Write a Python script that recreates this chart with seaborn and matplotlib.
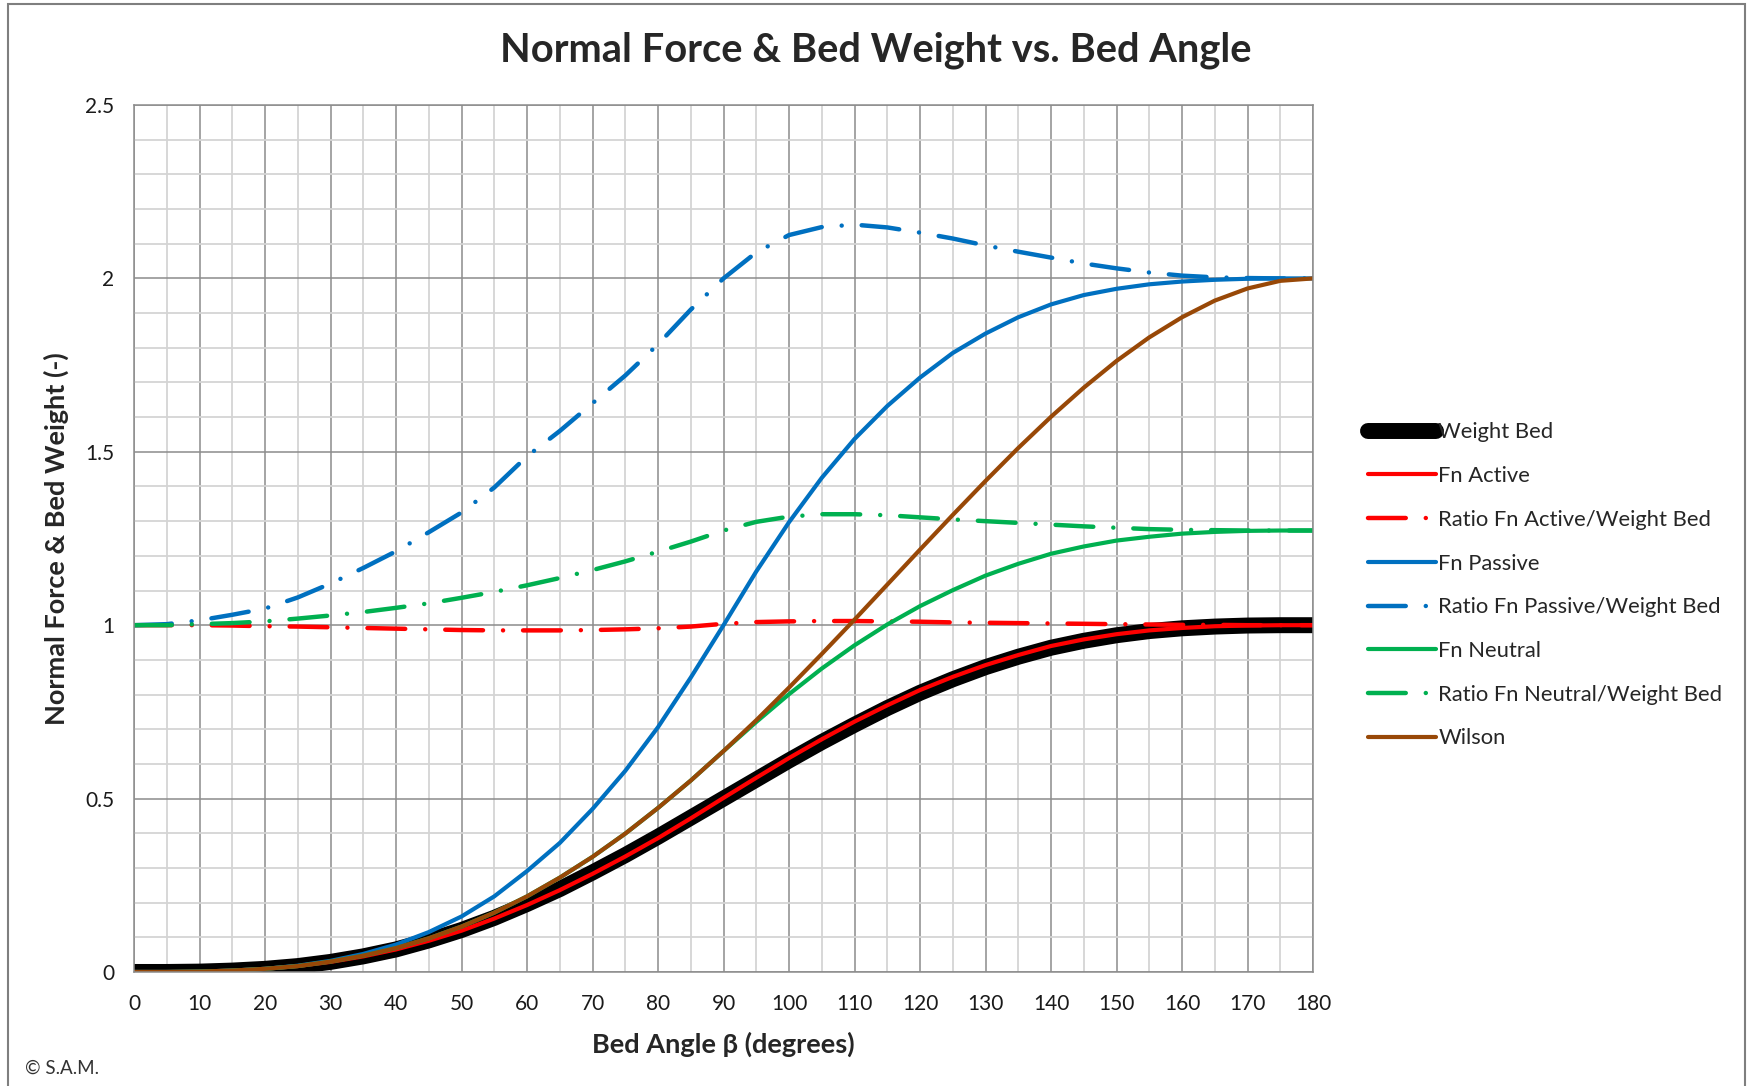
import numpy as np
import pandas as pd
import matplotlib
matplotlib.use("Agg")
import matplotlib.pyplot as plt
from matplotlib.ticker import MultipleLocator, FuncFormatter
from matplotlib.patches import Rectangle
import seaborn as sns

# Bed angle (degrees), values every 5 degrees
angle = [0, 5, 10, 15, 20, 25, 30, 35, 40, 45, 50, 55, 60, 65, 70, 75, 80, 85, 90,
         95, 100, 105, 110, 115, 120, 125, 130, 135, 140, 145, 150, 155, 160, 165, 170, 175, 180]

weight_bed = [0.000, 0.000, 0.001, 0.004, 0.009, 0.017, 0.029, 0.045, 0.065, 0.091, 0.121, 0.156, 0.196,
              0.239, 0.287, 0.337, 0.390, 0.445, 0.500, 0.555, 0.610, 0.663, 0.713, 0.761, 0.805, 0.844,
              0.879, 0.909, 0.935, 0.955, 0.971, 0.983, 0.991, 0.996, 0.999, 1.000, 1.000]

fn_active = [0.000, 0.000, 0.001, 0.004, 0.009, 0.017, 0.029, 0.045, 0.065, 0.090, 0.119, 0.154, 0.193,
             0.236, 0.283, 0.333, 0.386, 0.443, 0.502, 0.560, 0.617, 0.671, 0.722, 0.769, 0.813, 0.851,
             0.885, 0.914, 0.940, 0.959, 0.974, 0.985, 0.992, 0.997, 0.999, 1.000, 1.000]

ratio_active = [1.000, 1.000, 1.000, 0.999, 0.997, 0.996, 0.994, 0.992, 0.990, 0.988, 0.986, 0.985, 0.985,
                0.985, 0.986, 0.988, 0.991, 0.996, 1.004, 1.009, 1.011, 1.012, 1.012, 1.011, 1.010, 1.008,
                1.007, 1.006, 1.005, 1.004, 1.003, 1.002, 1.001, 1.001, 1.000, 1.000, 1.000]

fn_passive = [0.000, 0.000, 0.001, 0.004, 0.009, 0.018, 0.032, 0.052, 0.079, 0.115, 0.160, 0.218, 0.291,
              0.372, 0.470, 0.580, 0.706, 0.849, 1.000, 1.155, 1.297, 1.425, 1.537, 1.632, 1.714, 1.785,
              1.841, 1.888, 1.925, 1.952, 1.970, 1.983, 1.991, 1.996, 1.999, 2.000, 2.000]

ratio_passive = [1.000, 1.003, 1.014, 1.030, 1.048, 1.080, 1.120, 1.165, 1.213, 1.268, 1.325, 1.397, 1.487,
                 1.560, 1.640, 1.720, 1.810, 1.910, 2.000, 2.075, 2.125, 2.148, 2.155, 2.147, 2.132, 2.115,
                 2.095, 2.077, 2.060, 2.043, 2.029, 2.017, 2.008, 2.003, 2.001, 2.000, 2.000]

fn_neutral = [0.000, 0.000, 0.001, 0.004, 0.009, 0.017, 0.030, 0.047, 0.069, 0.097, 0.131, 0.171, 0.218,
              0.272, 0.332, 0.399, 0.473, 0.552, 0.637, 0.721, 0.801, 0.875, 0.942, 1.002, 1.055, 1.101,
              1.143, 1.177, 1.206, 1.227, 1.244, 1.255, 1.264, 1.269, 1.272, 1.273, 1.273]

ratio_neutral = [1.000, 1.000, 1.003, 1.006, 1.011, 1.019, 1.028, 1.038, 1.050, 1.063, 1.079, 1.096, 1.115,
                 1.136, 1.159, 1.184, 1.212, 1.241, 1.273, 1.298, 1.313, 1.320, 1.320, 1.317, 1.311, 1.305,
                 1.300, 1.295, 1.290, 1.285, 1.281, 1.277, 1.275, 1.274, 1.273, 1.273, 1.273]

wilson = [0.000, 0.000, 0.001, 0.004, 0.009, 0.017, 0.030, 0.047, 0.069, 0.097, 0.131, 0.171, 0.218,
          0.272, 0.332, 0.399, 0.473, 0.552, 0.637, 0.726, 0.820, 0.917, 1.016, 1.117, 1.218, 1.318,
          1.416, 1.511, 1.601, 1.685, 1.762, 1.830, 1.888, 1.936, 1.971, 1.993, 2.000]

labels = ["Weight Bed", "Fn Active", "Ratio Fn Active/Weight Bed", "Fn Passive",
          "Ratio Fn Passive/Weight Bed", "Fn Neutral", "Ratio Fn Neutral/Weight Bed", "Wilson"]

sns.set_theme(style="white")
plt.rcParams['font.family'] = ['Lato', 'DejaVu Sans']

fig = plt.figure(figsize=(17.54, 10.86), dpi=100)
ax = fig.add_axes([0.0764, 0.105, 0.6722, 0.7983])

dashdot = (8.5, 4.5, 0.01, 4.5)
styles = [
    (weight_bed, "black", 11.5, None),
    (fn_active, "#FF0000", 3.0, None),
    (ratio_active, "#FF0000", 3.2, dashdot),
    (fn_passive, "#0070C0", 3.0, None),
    (ratio_passive, "#0070C0", 3.2, dashdot),
    (fn_neutral, "#00B050", 3.0, None),
    (ratio_neutral, "#00B050", 3.2, dashdot),
    (wilson, "#984807", 3.0, None),
]

handles = []
for name, (vals, col, lw, dash) in zip(labels, styles):
    df = pd.DataFrame({"angle": angle, "value": vals})
    sns.lineplot(data=df, x="angle", y="value", ax=ax, color=col, linewidth=lw,
                 estimator=None, sort=False, legend=False)
    line = ax.lines[-1]
    line.set_label(name)
    line.set_solid_capstyle("round")
    line.set_solid_joinstyle("round")
    if dash:
        line.set_dashes(dash)
        line.set_dash_capstyle("round")
    handles.append(line)

ax.set_xlim(0, 180)
ax.set_ylim(0, 2.5)
ax.xaxis.set_major_locator(MultipleLocator(10))
ax.xaxis.set_minor_locator(MultipleLocator(5))
ax.yaxis.set_major_locator(MultipleLocator(0.5))
ax.yaxis.set_minor_locator(MultipleLocator(0.1))
ax.yaxis.set_major_formatter(FuncFormatter(lambda v, p: "%g" % v))
ax.grid(which="major", color="#8C8C8C", linewidth=1.1)
ax.grid(which="minor", color="#D4D4D4", linewidth=1.3)
ax.set_axisbelow(True)
for s in ax.spines.values():
    s.set_color("#8C8C8C")
    s.set_linewidth(1.1)
ax.tick_params(which="both", length=0)
ax.tick_params(axis="x", labelsize=15, pad=16, colors="#1a1a1a")
ax.tick_params(axis="y", labelsize=15, pad=14, colors="#1a1a1a")

ax.set_xlabel("Bed Angle β (degrees)", fontsize=19.5, fontweight="bold")
ax.xaxis.label.set_va("center")
ax.xaxis.set_label_coords(0.5, -0.083)
ax.set_ylabel("Normal Force & Bed Weight (-)", fontsize=19.5, fontweight="bold")
ax.yaxis.label.set_va("center")
ax.yaxis.set_label_coords(-0.066, 0.5)

fig.text(0.4995, 0.954, "Normal Force & Bed Weight vs. Bed Angle", ha="center", va="center",
         fontsize=28.7, fontweight="bold")
fig.text(25 / 1754, 0.0166, "© S.A.M.", fontsize=13.5, va="center", color="#333333")

ax.legend(handles=handles, loc="upper left", bbox_to_anchor=(1368 / 1754, 0.611),
          bbox_transform=fig.transFigure, frameon=False, fontsize=15.8, handlelength=3.1,
          handletextpad=0.1, labelspacing=1.08, borderpad=0, borderaxespad=0)

fig.patches.append(Rectangle((0.0046, -0.01), 0.9903, 1.0063, fill=False, edgecolor="#7F7F7F",
                             linewidth=1.5, transform=fig.transFigure, figure=fig))

fig.savefig("out.png", dpi=100)
